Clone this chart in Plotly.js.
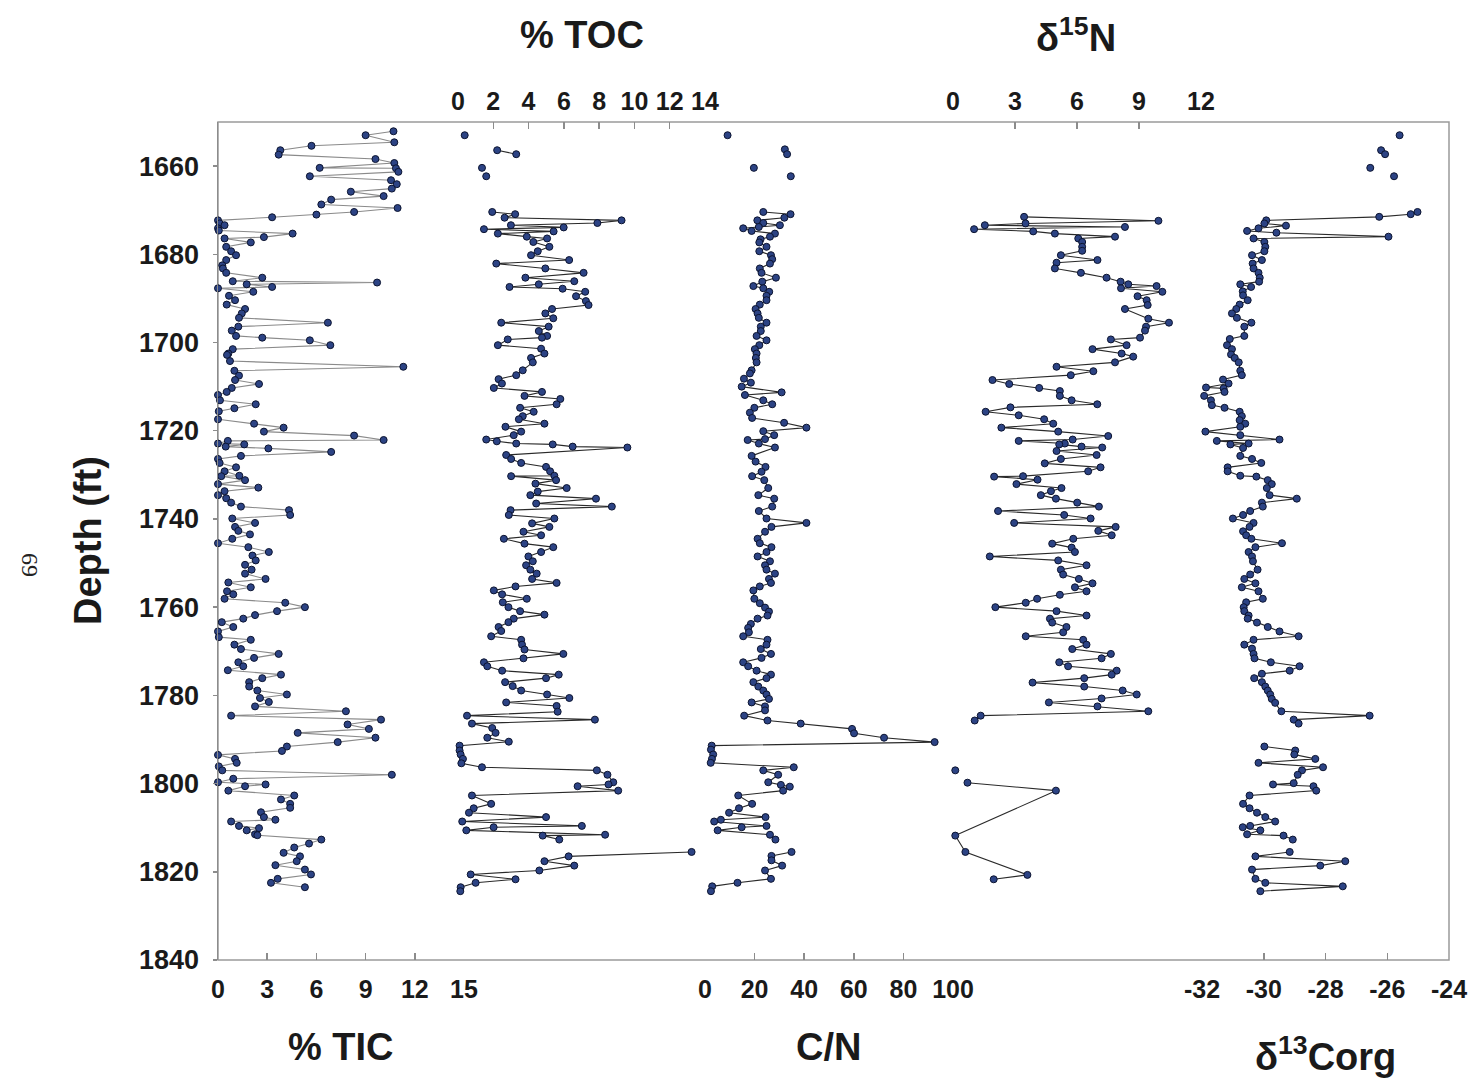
<!DOCTYPE html>
<html>
<head>
<meta charset="utf-8">
<script src="https://cdn.plot.ly/plotly-3.0.1.min.js"></script>
<style>html,body{margin:0;padding:0;background:#fff;}#chart{width:1472px;height:1083px;}</style>
</head>
<body>
<div id="chart"></div>
<script>
// ---------- DATA (depth in ft) ----------
const ticDepth = [1652.1,1653.0,1654.6,1655.4,1656.4,1657.4,1658.4,1659.3,1660.4,1660.5,1661.3,1662.3,1663.2,1664.1,1665.1,1665.8,1666.8,1667.6,1668.7,1669.5,1670.4,1671.0,1671.6,1672.3,1673.0,1673.4,1674.1,1674.6,1675.3,1676.1,1676.4,1677.3,1678.3,1679.3,1680.2,1681.3,1682.5,1683.2,1684.2,1685.3,1686.1,1686.4,1686.8,1687.4,1687.7,1688.5,1689.4,1690.4,1691.4,1692.4,1693.4,1694.4,1695.5,1696.4,1697.3,1698.5,1698.9,1699.5,1700.6,1701.5,1702.5,1702.8,1704.2,1705.5,1706.4,1707.5,1708.5,1709.4,1710.3,1711.2,1711.9,1713.1,1714.0,1714.9,1715.6,1717.4,1718.4,1719.3,1720.2,1721.1,1722.1,1722.3,1722.9,1723.1,1723.6,1724.0,1724.8,1725.7,1726.4,1727.3,1728.3,1729.2,1730.2,1730.3,1731.2,1732.1,1732.9,1733.7,1734.6,1735.3,1736.3,1737.2,1738.0,1739.1,1739.9,1740.9,1741.8,1742.7,1743.5,1744.5,1745.5,1746.4,1747.5,1748.3,1749.4,1750.4,1751.5,1752.4,1753.6,1754.4,1755.5,1756.4,1757.1,1758.1,1759.0,1760.0,1760.9,1761.8,1762.6,1763.4,1764.5,1765.5,1766.8,1767.4,1768.5,1769.5,1770.6,1771.5,1772.5,1773.4,1774.3,1775.3,1776.1,1777.0,1778.0,1778.9,1779.8,1780.6,1781.5,1782.5,1783.6,1784.6,1785.5,1786.6,1787.6,1788.5,1789.6,1790.6,1791.6,1792.6,1793.5,1794.4,1795.3,1796.1,1797.0,1798.0,1798.9,1799.7,1800.2,1800.6,1801.6,1802.7,1803.6,1804.6,1805.5,1806.5,1807.6,1808.2,1808.6,1809.6,1810.1,1810.6,1811.5,1811.7,1812.7,1813.6,1814.5,1815.7,1816.5,1817.6,1818.5,1819.5,1820.6,1821.6,1822.5,1823.5];
const ticValue = [10.7,9.0,10.75,5.7,3.8,3.7,9.6,10.75,6.2,10.85,11.0,5.6,10.55,10.9,10.6,8.1,10.1,6.9,6.3,10.95,8.3,6.0,3.3,0.0,0.1,0.4,0.0,0.05,4.55,2.8,0.4,2.0,0.5,0.8,1.1,0.5,0.26,0.3,0.5,2.7,0.9,9.7,1.75,3.3,0.0,2.15,0.67,1.04,0.53,1.65,1.45,1.28,6.7,1.24,0.84,1.1,2.7,5.6,6.85,0.9,0.63,0.55,0.73,11.3,1.0,1.28,1.04,2.5,0.84,0.53,0.0,0.12,2.3,1.0,0.05,0.0,2.2,4.0,2.8,8.3,10.1,0.6,0.0,1.6,0.47,3.07,6.9,1.4,0.0,0.1,1.1,0.4,1.3,0.2,1.65,0.0,2.46,0.4,0.0,0.5,0.8,1.4,4.33,4.4,0.87,2.26,1.04,1.24,1.95,0.87,0.0,1.85,3.1,2.1,2.3,1.65,2.05,1.65,2.9,0.63,2.0,0.55,0.93,0.4,4.1,5.3,3.6,2.26,1.54,0.23,0.93,0.0,0.05,2.0,1.0,1.4,3.7,2.2,1.24,1.54,0.6,3.84,2.7,1.9,1.9,2.4,4.2,2.56,3.1,2.26,7.8,0.8,9.94,7.9,9.2,4.86,9.6,7.3,4.2,3.9,0.0,1.04,1.14,0.05,0.26,10.6,0.93,0.0,2.9,1.65,0.63,4.65,3.84,4.4,4.4,2.62,2.8,3.5,0.8,1.28,2.5,1.75,2.26,2.4,6.3,5.55,4.65,4.0,5.0,4.8,3.5,5.3,5.67,3.64,3.23,5.3];

const tocDepth = [1653.0,1654.5,1656.4,1657.3,1659.0,1660.4,1661.3,1662.3,1666.0,1670.4,1670.9,1671.7,1672.3,1672.9,1673.4,1673.9,1674.3,1674.8,1675.3,1676.0,1676.4,1677.2,1678.3,1679.3,1680.2,1681.3,1682.1,1683.2,1684.2,1685.3,1686.1,1686.8,1687.4,1687.8,1688.5,1689.5,1690.6,1691.5,1692.4,1693.4,1694.5,1695.5,1696.4,1697.4,1698.5,1698.9,1699.3,1700.6,1701.4,1702.5,1703.5,1704.5,1706.3,1707.4,1708.3,1709.3,1710.3,1711.2,1712.1,1712.8,1714.0,1714.8,1715.7,1716.7,1717.4,1718.4,1719.1,1720.2,1721.0,1722.0,1722.4,1722.9,1723.1,1723.6,1723.8,1725.5,1726.4,1727.3,1728.2,1729.2,1730.2,1730.3,1731.2,1732.0,1733.0,1733.8,1734.6,1735.4,1736.5,1737.2,1738.0,1739.1,1739.9,1741.0,1741.8,1742.9,1743.7,1744.5,1745.6,1746.4,1747.5,1748.5,1749.6,1750.5,1751.5,1752.4,1753.6,1754.5,1755.3,1756.2,1757.1,1758.1,1758.9,1760.0,1760.9,1761.7,1762.6,1763.4,1764.5,1765.4,1766.6,1767.4,1768.5,1769.6,1770.6,1771.6,1772.5,1773.4,1774.4,1775.3,1776.1,1777.0,1777.9,1778.9,1779.8,1780.6,1781.6,1782.4,1783.7,1784.6,1785.5,1786.4,1787.4,1788.5,1789.6,1790.5,1791.4,1792.5,1793.4,1794.4,1795.4,1796.3,1797.0,1798.0,1799.7,1800.2,1800.6,1801.6,1802.7,1804.6,1805.6,1806.6,1807.6,1808.6,1809.6,1809.9,1810.6,1811.6,1811.8,1812.7,1814.0,1815.5,1816.5,1817.6,1818.6,1819.7,1820.6,1821.7,1822.5,1823.5,1824.4];
const tocValue = [0.38,null,2.22,3.30,null,1.36,null,1.60,null,1.94,3.24,2.64,9.27,7.9,3.0,5.99,1.47,5.42,2.26,3.9,5.05,4.27,5.18,4.52,4.14,6.3,2.17,4.95,7.12,3.82,6.59,4.58,2.92,5.93,7.21,6.69,7.25,7.4,5.33,4.95,5.4,2.45,5.14,4.58,5.05,4.76,2.82,2.26,4.71,4.9,4.14,4.24,3.67,3.3,2.3,2.49,2.03,4.76,3.77,5.8,5.59,3.52,4.29,3.67,3.45,4.9,2.69,3.58,3.16,1.6,2.2,3.3,5.37,6.5,9.6,2.73,3.01,3.58,4.99,5.22,5.46,3.01,5.56,4.39,6.16,4.52,4.1,7.82,4.43,8.72,2.98,2.88,5.46,4.2,5.18,3.71,4.71,2.6,3.77,5.4,4.71,3.99,4.24,3.86,4.1,4.46,4.2,5.59,3.26,2.03,2.5,3.9,2.54,2.86,3.52,4.9,3.16,2.86,2.3,2.45,1.88,3.58,3.63,3.77,5.97,3.71,1.47,1.66,2.5,5.71,4.99,2.67,3.1,3.58,5.05,6.31,2.73,5.59,5.65,0.51,7.76,0.79,1.94,2.13,1.66,2.88,0.09,0.09,0.15,0.28,0.19,1.36,7.87,8.47,8.8,8.53,6.78,9.08,0.79,1.88,0.89,0.62,4.99,0.24,7.02,2.02,0.47,8.34,4.8,5.74,null,13.24,6.27,4.9,6.59,4.61,0.72,3.26,1.0,0.15,0.13];

const cnDepth = [1653.0,1654.5,1656.2,1657.3,1659.0,1660.4,1661.3,1662.3,1666.0,1670.4,1670.9,1671.7,1672.3,1672.9,1673.4,1673.8,1674.1,1674.7,1675.3,1676.0,1676.6,1677.3,1678.3,1679.3,1680.2,1681.1,1682.1,1683.2,1684.2,1685.3,1686.2,1687.2,1687.7,1688.5,1689.4,1690.4,1691.4,1692.4,1693.4,1694.4,1695.5,1696.4,1697.4,1698.5,1699.5,1700.6,1701.5,1702.5,1703.5,1704.5,1706.3,1707.0,1708.2,1709.1,1710.0,1711.3,1711.9,1713.1,1714.0,1714.8,1715.9,1717.1,1718.2,1719.3,1720.1,1721.0,1721.9,1722.1,1722.9,1723.8,1725.7,1727.0,1728.2,1729.3,1730.3,1731.2,1733.0,1734.6,1735.4,1737.2,1738.2,1739.9,1740.9,1741.8,1742.9,1744.5,1745.5,1746.4,1747.5,1748.5,1749.6,1750.5,1751.5,1752.4,1753.6,1754.5,1755.3,1756.2,1758.1,1759.1,1760.1,1761.0,1761.9,1762.6,1763.8,1764.7,1765.7,1766.6,1767.4,1768.5,1769.5,1770.6,1771.5,1772.5,1773.4,1774.4,1775.3,1776.1,1777.0,1778.0,1778.9,1779.8,1780.8,1781.6,1782.5,1783.4,1784.6,1785.7,1786.4,1787.6,1788.6,1789.6,1790.6,1791.4,1792.3,1793.4,1794.4,1795.3,1796.3,1797.0,1798.0,1799.7,1800.3,1800.7,1801.6,1802.7,1804.6,1805.6,1806.6,1807.6,1808.2,1808.6,1809.6,1809.9,1810.6,1811.6,1812.7,1814.0,1815.5,1816.4,1817.4,1818.6,1819.7,1821.6,1822.5,1823.3,1824.4];
const cnValue = [9.1,null,32.2,33.1,null,19.7,null,34.6,null,23.5,34.5,32.0,21.1,23.5,30.2,21.7,15.4,18.8,28.2,26.2,22.4,21.9,24.8,21.9,26.6,27.1,26.2,22.1,22.8,28.6,23.1,19.5,23.5,25.9,24.8,24.8,22.1,20.4,21.2,21.7,24.8,22.5,22.5,20.8,24.8,21.9,20.1,20.8,20.5,20.8,18.8,18.1,15.7,18.5,14.8,30.9,16.1,23.5,27.1,19.9,18.1,19.0,31.9,40.9,23.5,27.9,24.2,17.2,21.7,28.2,18.8,20.4,24.4,22.8,19.0,23.9,25.5,21.5,27.9,27.1,21.7,24.8,40.9,26.8,24.2,21.2,22.1,26.8,24.8,21.2,26.2,24.2,24.8,28.2,25.8,26.6,22.1,19.5,19.9,22.1,24.2,25.8,25.2,21.2,18.5,17.4,17.7,15.4,25.2,24.8,22.5,26.6,22.8,15.4,17.4,20.8,26.6,24.8,19.5,21.5,23.5,24.8,25.8,18.8,24.2,24.2,15.8,25.2,38.6,59.3,60.1,72.2,92.6,2.7,2.4,3.3,2.8,2.3,35.8,23.5,29.5,25.5,30.6,34.2,31.5,13.4,19.0,13.7,9.7,24.4,6.4,3.7,24.8,14.8,5.1,26.2,28.4,null,34.9,26.8,26.8,31.1,24.2,26.6,13.1,2.9,2.4];

const d15nDepth = [1671.5,1672.4,1673.0,1673.4,1673.8,1674.3,1674.8,1675.3,1676.0,1676.4,1677.2,1678.3,1679.2,1680.2,1681.3,1681.9,1683.2,1684.2,1685.3,1686.2,1686.8,1687.2,1687.7,1688.5,1689.5,1690.4,1691.5,1692.4,1694.6,1695.5,1696.4,1697.3,1698.9,1699.3,1700.6,1701.5,1702.5,1703.2,1704.5,1705.5,1706.5,1707.4,1708.5,1709.4,1710.3,1711.0,1712.1,1713.1,1714.0,1714.7,1715.7,1716.5,1717.4,1718.4,1719.3,1720.2,1721.2,1722.0,1722.3,1722.9,1723.1,1723.6,1723.8,1724.6,1725.5,1726.4,1727.4,1728.3,1729.2,1730.3,1730.4,1731.1,1732.1,1733.0,1733.7,1734.6,1735.4,1736.3,1737.2,1738.2,1739.1,1739.9,1740.9,1741.8,1742.7,1743.7,1744.5,1745.6,1746.5,1747.5,1748.5,1749.4,1750.5,1751.5,1752.6,1753.6,1754.6,1755.5,1756.4,1757.2,1758.1,1759.0,1760.0,1760.9,1761.9,1762.6,1763.5,1764.5,1765.7,1766.6,1767.4,1768.5,1769.5,1770.6,1771.6,1772.5,1773.4,1774.4,1775.3,1776.1,1777.1,1778.0,1778.9,1779.8,1780.7,1781.6,1782.5,1783.6,1784.6,1785.7,1790.0,1797.0,1798.5,1799.8,1801.6,1811.8,1815.5,1820.7,1821.7];
const d15nValue = [3.44,9.94,3.51,1.54,8.32,1.02,3.88,4.93,7.84,6.06,6.25,6.25,6.25,5.22,6.99,5.01,4.93,6.19,7.43,8.11,8.48,9.85,8.13,10.13,8.93,9.37,9.42,8.32,9.45,10.45,9.34,9.29,9.05,7.64,8.40,6.75,8.16,8.72,7.84,5.01,6.79,5.70,1.91,2.72,4.17,5.17,5.17,5.74,6.98,2.78,1.58,3.18,4.41,4.85,2.34,5.09,7.51,5.79,3.18,5.41,5.14,6.22,7.22,5.01,6.95,5.22,4.44,7.14,6.54,3.39,1.99,4.09,3.07,5.25,4.74,4.25,4.98,6.01,7.06,2.18,5.38,6.66,2.96,7.87,7.03,7.68,5.82,4.8,5.74,5.9,1.78,5.09,6.46,5.22,5.33,6.09,6.75,5.9,6.46,5.17,4.07,3.52,2.05,5.01,6.46,4.69,4.8,5.49,5.33,3.52,6.30,6.46,5.77,7.64,7.19,5.14,5.57,7.92,7.68,6.35,3.85,6.35,8.21,8.89,7.19,4.64,6.99,9.45,1.34,1.05,null,0.11,null,0.70,4.98,0.11,0.60,3.6,1.97];

const d13cDepth = [1653.0,1654.5,1656.4,1657.3,1659.0,1660.4,1661.3,1662.3,1666.0,1670.4,1670.9,1671.5,1672.3,1673.0,1673.5,1674.1,1674.7,1675.1,1676.0,1676.4,1677.2,1678.3,1679.3,1680.2,1681.3,1682.1,1683.2,1684.2,1685.3,1686.2,1686.8,1687.4,1688.4,1689.3,1690.4,1691.4,1692.4,1693.4,1694.4,1695.5,1696.4,1698.5,1699.2,1700.6,1701.5,1702.7,1703.5,1704.5,1706.4,1707.4,1708.4,1709.3,1710.2,1710.4,1711.2,1712.1,1713.1,1714.2,1714.8,1715.7,1716.7,1717.6,1718.4,1719.1,1720.2,1721.0,1722.0,1722.3,1722.9,1723.1,1723.9,1725.7,1726.4,1727.3,1728.3,1729.2,1730.2,1730.4,1731.2,1732.1,1733.0,1734.6,1735.4,1736.3,1737.2,1738.2,1739.1,1739.9,1740.9,1741.8,1742.8,1743.7,1744.5,1745.5,1746.4,1747.5,1748.5,1749.6,1751.5,1752.6,1753.6,1754.6,1755.5,1756.4,1758.1,1758.9,1760.0,1760.9,1761.9,1762.6,1763.5,1764.5,1765.5,1766.6,1767.4,1768.5,1769.4,1770.6,1771.6,1772.5,1773.4,1774.4,1775.1,1776.1,1777.0,1778.0,1778.9,1779.8,1780.8,1781.7,1783.6,1784.6,1785.5,1786.4,1789.0,1791.6,1792.5,1793.4,1794.4,1795.3,1796.3,1797.0,1798.0,1799.9,1800.2,1800.6,1801.6,1802.7,1804.6,1805.6,1806.6,1807.6,1808.6,1809.6,1809.9,1810.6,1811.5,1811.8,1812.7,1814.0,1815.5,1816.5,1817.6,1818.6,1819.5,1821.6,1822.5,1823.3,1824.4];
const d13cValue = [-25.60,null,-26.20,-26.07,null,-26.55,null,-25.78,null,-25.02,-25.24,-26.26,-29.92,-29.98,-29.28,-30.17,-30.54,-29.59,-25.96,-30.33,-29.98,-29.95,-29.98,-30.38,-30.06,-30.36,-30.33,-30.17,-30.13,-30.15,-30.76,-30.41,-30.68,-30.67,-30.52,-30.78,-30.89,-31.03,-30.87,-30.40,-30.63,-30.63,-31.10,-31.19,-31.03,-31.06,-30.94,-30.81,-30.76,-30.71,-31.32,-31.14,-31.87,-31.30,-31.27,-31.93,-31.71,-31.68,-31.27,-30.78,-30.71,-30.78,-30.60,-30.76,-31.89,-30.76,-29.49,-31.52,-30.49,-31.08,-30.67,-30.76,-30.38,-30.08,-31.17,-31.17,-30.76,-30.24,-29.87,-29.74,-29.90,-29.81,-28.93,-30.06,-30.03,-30.44,-30.67,-31.00,-30.33,-30.46,-30.67,-30.57,-30.40,-29.41,-30.27,-30.49,-30.38,-30.35,-30.20,-30.44,-30.63,-30.27,-30.71,-30.17,-30.03,-30.57,-30.65,-30.63,-30.49,-30.52,-30.22,-29.87,-29.49,-28.87,-30.33,-30.63,-30.38,-30.33,-30.30,-29.77,-28.84,-29.16,-30.06,-30.31,-30.06,-29.95,-29.87,-29.79,-29.74,-29.63,-29.43,-26.57,-29.03,-28.87,null,-29.98,-28.98,-29.01,-28.33,-30.17,-28.08,-28.76,-28.90,-29.03,-29.70,-28.39,-28.30,-30.46,-30.67,-30.46,-30.22,-29.95,-29.63,-30.44,-30.68,-30.11,-30.54,-29.36,-29.06,null,-29.16,-30.27,-27.36,-28.17,-30.38,-30.27,-29.95,-27.44,-30.11];

const depthTicks = [1660,1680,1700,1720,1740,1760,1780,1800,1820,1840];
const ticTicks = [0,3,6,9,12,15];
const tocTicks = [0,2,4,6,8,10,12,14];
const cnTicks = [0,20,40,60,80,100];
const d15nTicks = [0,3,6,9,12];
const d13cTicks = [-32,-30,-28,-26,-24];

// ---------- BUILD ----------
function sorted(depth, value) {
  const idx = depth.map((d, i) => i).sort((a, b) => depth[a] - depth[b]);
  return { y: idx.map(i => depth[i]), x: idx.map(i => value[i]) };
}
const markerStyle = { size: 7, color: '#2c4384', line: { color: '#0c1430', width: 1 } };
function trace(depth, value, xa, lineColor) {
  const s = sorted(depth, value);
  return {
    type: 'scatter', mode: 'lines+markers', x: s.x, y: s.y, xaxis: xa, yaxis: 'y',
    line: { color: lineColor, width: 1.1 }, marker: markerStyle,
    cliponaxis: false, showlegend: false, hoverinfo: 'skip'
  };
}
const data = [
  trace(ticDepth, ticValue, 'x', '#8a8a8a'),
  trace(tocDepth, tocValue, 'x2', '#2a2a2a'),
  trace(cnDepth, cnValue, 'x3', '#2a2a2a'),
  trace(d15nDepth, d15nValue, 'x4', '#2a2a2a'),
  trace(d13cDepth, d13cValue, 'x5', '#2a2a2a')
];

const FONT = 'Liberation Sans, Arial, sans-serif';
const tickFont = { family: FONT, size: 25, color: '#1a1a1a', weight: 'bold' };
function xAxis(domain, range, tickvals, side) {
  return {
    domain: domain, range: range, tickvals: tickvals, ticktext: tickvals.map(String),
    side: side, anchor: 'y', showgrid: false, zeroline: false, showline: false,
    ticks: 'inside', ticklen: 7, tickwidth: 1.5, tickcolor: '#8c8c8c',
    tickfont: tickFont, ticklabelstandoff: side === 'top' ? 6 : 12, fixedrange: true
  };
}
const W = 1231;
const layout = {
  width: 1472, height: 1083,
  margin: { l: 218, r: 23, t: 122, b: 123, pad: 0 },
  paper_bgcolor: '#ffffff', plot_bgcolor: 'rgba(0,0,0,0)',
  showlegend: false,
  xaxis:  xAxis([0, 246 / W], [0, 15], ticTicks, 'bottom'),
  xaxis2: xAxis([240 / W, 487 / W], [0, 14], tocTicks, 'top'),
  xaxis3: xAxis([487 / W, 735 / W], [0, 100], cnTicks, 'bottom'),
  xaxis4: xAxis([735 / W, 983 / W], [0, 12], d15nTicks, 'top'),
  xaxis5: xAxis([984 / W, 1], [-32, -24], d13cTicks, 'bottom'),
  yaxis: {
    domain: [0, 1], range: [1840, 1650], tickvals: depthTicks, anchor: 'x',
    showgrid: false, zeroline: false, showline: true, linecolor: '#8c8c8c', linewidth: 1.5,
    ticks: 'outside', ticklen: 4, tickwidth: 1.5, tickcolor: '#8c8c8c',
    tickfont: { family: FONT, size: 27, color: '#1a1a1a', weight: 'bold' },
    ticklabelstandoff: 8, fixedrange: true
  },
  shapes: [{ type: 'rect', xref: 'paper', yref: 'paper', x0: 0, x1: 1, y0: 0, y1: 1,
    line: { color: '#9a9a9a', width: 1.5 }, layer: 'below' }],
  annotations: [
    { text: '<b>% TOC</b>', x: 0.2957, y: 1.1038 },
    { text: '<b>δ<sup>15</sup>N</b>', x: 0.697, y: 1.1038 },
    { text: '<b>% TIC</b>', x: 0.0999, y: -0.1038 },
    { text: '<b>C/N</b>', x: 0.4963, y: -0.1038 },
    { text: '<b>δ<sup>13</sup>Corg</b>', x: 0.8993, y: -0.112 },
    { text: '<b>Depth (ft)</b>', x: -0.1056, y: 0.5, textangle: -90 }
  ].map(a => Object.assign({ xref: 'paper', yref: 'paper', xanchor: 'center', yanchor: 'middle',
      showarrow: false, font: { family: FONT, size: 38, color: '#1a1a1a' } }, a))
   .concat([{ text: '69', x: -0.1527, y: 0.4714, xref: 'paper', yref: 'paper', xanchor: 'center',
      yanchor: 'middle', showarrow: false, textangle: 90,
      font: { family: 'Liberation Serif, Times New Roman, serif', size: 24, color: '#222' } }])
};

Plotly.newPlot('chart', data, layout, { staticPlot: true, displayModeBar: false });
</script>
</body>
</html>
